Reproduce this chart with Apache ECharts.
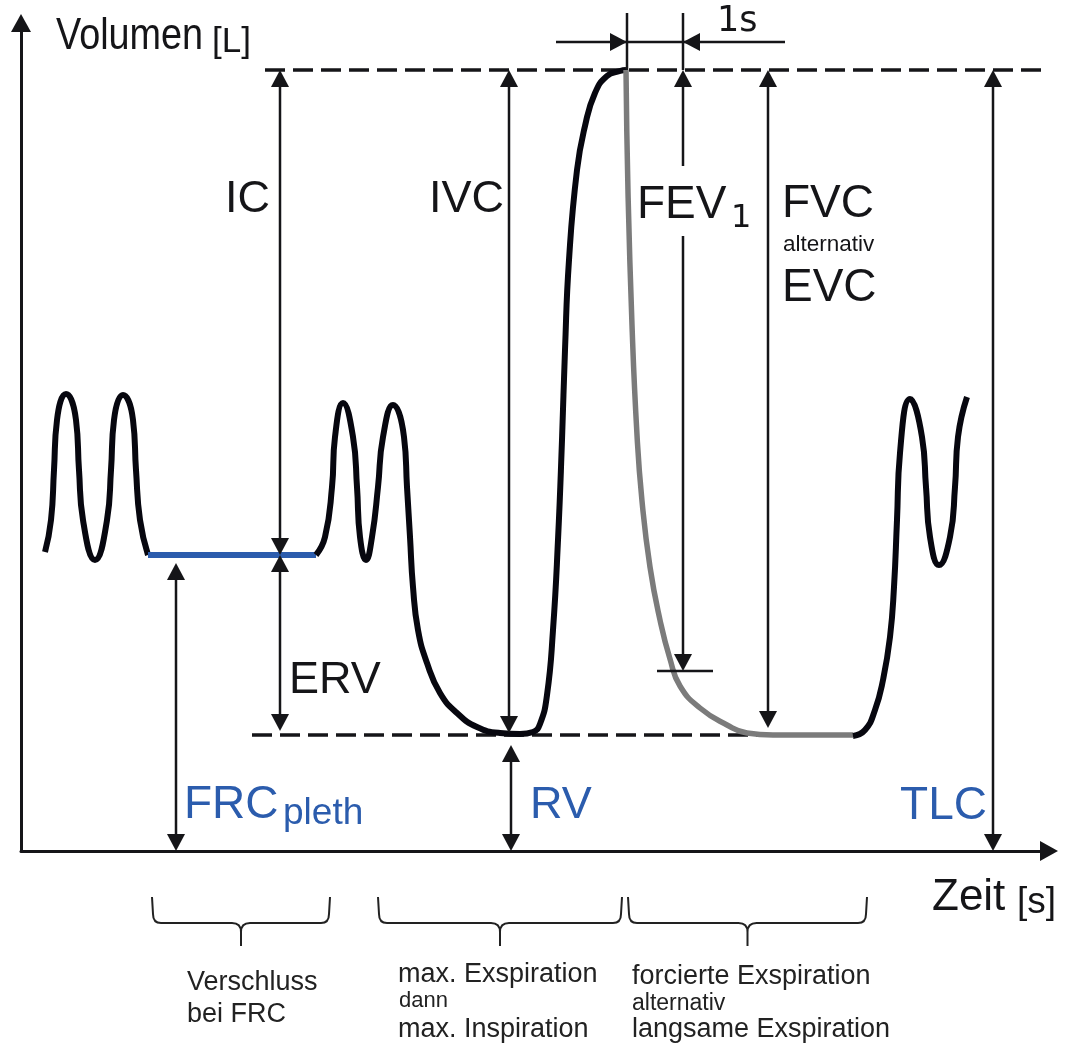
<!DOCTYPE html>
<html>
<head>
<meta charset="utf-8">
<title>Spirometrie</title>
<script src="https://cdn.jsdelivr.net/npm/echarts@6/dist/echarts.min.js"></script>
<style>
  html, body { margin: 0; padding: 0; background: #fff; }
  #chart { width: 1065px; height: 1044px; }
</style>
</head>
<body>
<div id="chart"></div>
<script>
// schematic units (no scale in the figure): t = time, v = volume
const TLC = 781
const FRC = 296
const RV = 116

// quiet breathing before the closure
const breathLeft = [
  [24, 299], [30, 331], [33, 381], [36, 431], [45, 457], [55, 431], [58, 381], [62, 331],
  [74, 291], [86, 331], [90, 381], [93, 431], [102, 456], [112, 431], [115, 381], [119, 331],
  [127, 296]
]
// shutter closed at FRC (blue)
const closure = [[127, FRC], [295, FRC]]
// breathing, max. expiration, max. inspiration
const manoeuvre = [
  [295, 296], [304, 314], [311, 364], [314, 414], [322, 448], [332, 414], [336, 364], [339, 314],
  [345, 291], [351, 314], [357, 364], [362, 414], [372, 446], [383, 414], [386, 364], [389, 314],
  [392, 264], [397, 221], [406, 188], [419, 158], [436, 138], [456, 124], [479, 118], [499, 117],
  [512, 119], [519, 127], [526, 156], [532, 221], [537, 311], [541, 411], [544, 501], [548, 591],
  [556, 681], [564, 725], [574, 758], [586, 775], [599, 780], [605, 781]
]
// forced / slow expiration (grey)
const expiration = [
  [605, 781], [607, 659], [611, 526], [616, 416], [621, 350], [629, 284], [639, 231], [649, 192],
  [659, 165], [679, 143], [706, 126], [726, 118], [752, 116], [832, 116]
]
// breathing again
const breathRight = [
  [832, 115], [844, 121], [854, 141], [862, 171], [869, 214], [873, 264], [876, 331], [879, 398],
  [889, 452], [901, 414], [905, 364], [909, 314], [918, 286], [929, 314], [934, 364], [937, 414],
  [946, 454]
]

const tlcLevel = [[244, TLC], [1028, TLC]]
const rvLevel = [[231, RV], [834, RV]]

// [t, from v, to v]: IC, ERV, FRCpleth, IVC, RV, FEV1, FVC, TLC
const volumeArrows = [
  [259, TLC, FRC],
  [259, FRC, 120],
  [155, 288, 0],
  [488, TLC, 118],
  [490, 106, 0],
  [662, TLC, 180],
  [747, TLC, 123],
  [972, TLC, 0]
]
const FEV1_INDEX = 5
const fev1Gap = [685, 615]
const fev1Tick = [[636, 692, 180]]
const oneSecond = [[606, 662]]
const braces = [[131, 309], [357, 601], [607, 846]]

const INK = '#151518'
const CURVE = '#07070f'
const GREY = '#7b7b7b'
const BLUE = '#2b5cad'
const SANS = '"Liberation Sans", Arial, Helvetica, sans-serif'
const HEAD_LEN = 17
const HEAD_HALF = 9

function seg(a, b, w) {
  return {
    type: 'line',
    shape: { x1: a[0], y1: a[1], x2: b[0], y2: b[1] },
    style: { stroke: INK, lineWidth: w || 2.5 }
  }
}

function head(tip, from) {
  const dx = tip[0] - from[0]
  const dy = tip[1] - from[1]
  const d = Math.hypot(dx, dy) || 1
  const ux = dx / d
  const uy = dy / d
  const bx = tip[0] - ux * HEAD_LEN
  const by = tip[1] - uy * HEAD_LEN
  return {
    type: 'polygon',
    shape: { points: [[tip[0], tip[1]], [bx - uy * HEAD_HALF, by + ux * HEAD_HALF], [bx + uy * HEAD_HALF, by - ux * HEAD_HALF]] },
    style: { fill: INK }
  }
}

function curve(name, data, color, width) {
  return {
    name,
    type: 'line',
    data,
    smooth: 0.5,
    symbol: 'none',
    silent: true,
    z: 3,
    lineStyle: { color, width, cap: 'butt', join: 'round' }
  }
}

function level(data) {
  return {
    type: 'line',
    data,
    symbol: 'none',
    silent: true,
    z: 1,
    lineStyle: { color: INK, width: 3.5, type: [20, 8] }
  }
}

function label(text, x, y, size, align, color, family, scaleX) {
  return {
    type: 'text',
    x,
    y,
    scaleX: scaleX || 1,
    silent: true,
    style: {
      text,
      fontSize: size,
      fontFamily: family || SANS,
      fill: color || INK,
      align: align || 'left',
      verticalAlign: 'middle'
    }
  }
}

const chart = echarts.init(document.getElementById('chart'))

chart.setOption({
  animation: false,
  backgroundColor: '#fff',
  grid: { left: 21, right: 16, top: 23, bottom: 193 },
  xAxis: {
    type: 'value',
    min: 0,
    max: 1028,
    axisLine: { show: true, symbol: ['none', 'triangle'], symbolSize: [20, 18], lineStyle: { color: INK, width: 3 } },
    axisTick: { show: false },
    axisLabel: { show: false },
    splitLine: { show: false }
  },
  yAxis: {
    type: 'value',
    min: 0,
    max: 828,
    axisLine: { show: true, symbol: ['none', 'triangle'], symbolSize: [20, 18], lineStyle: { color: INK, width: 3 } },
    axisTick: { show: false },
    axisLabel: { show: false },
    splitLine: { show: false }
  },
  series: [
    level(tlcLevel),
    level(rvLevel),
    curve('breathLeft', breathLeft, CURVE, 6),
    curve('closure', closure, BLUE, 6),
    curve('manoeuvre', manoeuvre, CURVE, 6),
    curve('expiration', expiration, GREY, 5.5),
    curve('breathRight', breathRight, CURVE, 6),
    {
      type: 'custom',
      silent: true,
      clip: false,
      z: 4,
      data: volumeArrows,
      encode: { x: 0, y: [1, 2] },
      renderItem(params, api) {
        const t = api.value(0)
        const top = api.coord([t, api.value(1)])
        const bottom = api.coord([t, api.value(2)])
        const a = [top[0], top[1] + HEAD_LEN - 2]
        const b = [bottom[0], bottom[1] - HEAD_LEN + 2]
        const children = [head(top, bottom), head(bottom, top)]
        if (params.dataIndex === FEV1_INDEX) {
          children.push(seg(a, api.coord([t, fev1Gap[0]])), seg(api.coord([t, fev1Gap[1]]), b))
        } else {
          children.push(seg(a, b))
        }
        return { type: 'group', children }
      }
    },
    {
      type: 'custom',
      silent: true,
      clip: false,
      z: 4,
      data: fev1Tick,
      renderItem(params, api) {
        const v = api.value(2)
        return seg(api.coord([api.value(0), v]), api.coord([api.value(1), v]))
      }
    },
    {
      type: 'custom',
      silent: true,
      clip: false,
      z: 4,
      data: oneSecond,
      renderItem(params, api) {
        const p1 = api.coord([api.value(0), TLC])
        const p2 = api.coord([api.value(1), TLC])
        const ay = p1[1] - 28
        return {
          type: 'group',
          children: [
            seg(p1, [p1[0], p1[1] - 57]),
            seg(p2, [p2[0], p2[1] - 57]),
            seg([p1[0] - 71, ay], [p2[0] + 102, ay]),
            head([p1[0], ay], [p1[0] - 20, ay]),
            head([p2[0], ay], [p2[0] + 20, ay])
          ]
        }
      }
    },
    {
      type: 'custom',
      silent: true,
      clip: false,
      z: 4,
      data: braces,
      renderItem(params, api) {
        const l = api.coord([api.value(0), 0])
        const r = api.coord([api.value(1), 0])
        const y0 = l[1]
        const top = y0 + 46
        const mid = y0 + 72
        const bot = y0 + 95
        const c = (l[0] + r[0]) / 2
        const k = 9
        const d = [
          'M', l[0], top, 'L', l[0] + 1, mid - k, 'Q', l[0] + 1, mid, l[0] + k, mid,
          'L', c - k, mid, 'Q', c, mid, c, mid + k, 'L', c, bot,
          'M', r[0], top, 'L', r[0] - 1, mid - k, 'Q', r[0] - 1, mid, r[0] - k, mid,
          'L', c + k, mid, 'Q', c, mid, c, mid + k
        ].join(' ')
        return {
          type: 'path',
          shape: { pathData: d },
          style: { stroke: '#222', lineWidth: 2, fill: null }
        }
      }
    }
  ],
  graphic: [
    label('Volumen', 56, 37, 45, 'left', INK, SANS, 0.84),
    label('[L]', 212, 42, 35),
    label('1s', 717, 22, 35, 'left', INK, '"DejaVu Sans", sans-serif'),
    label('IC', 270, 200, 45, 'right'),
    label('IVC', 504, 200, 45, 'right'),
    label('FEV', 637, 205, 46),
    label('1', 731, 219, 32, 'left', INK, '"DejaVu Sans", sans-serif'),
    label('FVC', 782, 204, 46),
    label('alternativ', 783, 245, 22.5),
    label('EVC', 782, 288, 46),
    label('ERV', 289, 681, 45),
    label('FRC', 184, 805, 46, 'left', BLUE),
    label('pleth', 283, 814, 37, 'left', BLUE),
    label('RV', 530, 806, 45, 'left', BLUE),
    label('TLC', 987, 806, 46, 'right', BLUE),
    label('Zeit', 932, 898, 44),
    label('[s]', 1017, 903, 37),
    label('Verschluss', 187, 983, 27, 'left', '#222'),
    label('bei FRC', 187, 1015, 27, 'left', '#222'),
    label('max. Exspiration', 398, 975, 27, 'left', '#222'),
    label('dann', 399, 1001, 22, 'left', '#222'),
    label('max. Inspiration', 398, 1030, 27, 'left', '#222'),
    label('forcierte Exspiration', 632, 977, 27, 'left', '#222'),
    label('alternativ', 632, 1004, 23, 'left', '#222'),
    label('langsame Exspiration', 632, 1030, 27, 'left', '#222')
  ]
})
</script>
</body>
</html>
